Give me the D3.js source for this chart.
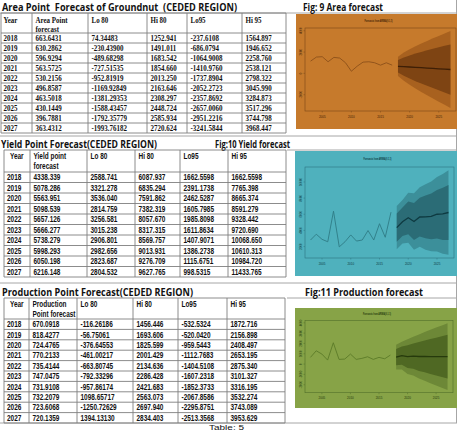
<!DOCTYPE html>
<html>
<head>
<meta charset="utf-8">
<script src="https://cdn.jsdelivr.net/npm/d3@7"></script>
<style>
  body { margin: 0; background: #fff; }
  svg { display: block; }
</style>
</head>
<body>
<script>
var W = 460;
var H = 431;

var years = ["2018","2019","2020","2021","2022","2023","2024","2025","2026","2027"];
var histYears = [2003,2004,2005,2006,2007,2008,2009,2010,2011,2012,2013,2014,2015,2016,2017];

// area table
var areaFc   = ["663.6431","630.2862","596.9294","563.5725","530.2156","496.8587","463.5018","430.1449","396.7881","363.4312"];
var areaLo80 = ["74.34483","-230.43900","-489.68298","-727.51535","-952.81919","-1169.92849","-1381.29353","-1588.43457","-1792.35779","-1993.76182"];
var areaHi80 = ["1252.941","1491.011","1683.542","1854.660","2013.250","2163.646","2308.297","2448.724","2585.934","2720.624"];
var areaLo95 = ["-237.6108","-686.0794","-1064.9008","-1410.9760","-1737.8904","-2052.2723","-2357.8692","-2657.0060","-2951.2216","-3241.5844"];
var areaHi95 = ["1564.897","1946.652","2258.760","2538.121","2798.322","3045.990","3284.873","3517.296","3744.798","3968.447"];

// yield table
var yieldFc   = ["4338.339","5078.286","5563.951","5098.539","5657.126","5666.277","5738.279","5998.293","6050.198","6216.148"];
var yieldLo80 = ["2588.741","3321.278","3536.040","2814.759","3256.581","3015.238","2906.801","2982.656","2823.687","2804.532"];
var yieldHi80 = ["6087.937","6835.294","7591.862","7382.319","8057.670","8317.315","8569.757","9013.931","9276.709","9627.765"];
var yieldLo95 = ["1662.5598","2391.1738","2462.5287","1605.7985","1985.8098","1611.8634","1407.9071","1386.2738","1115.6751","998.5315"];
var yieldHi95 = ["1662.5598","7765.398","8665.374","8591.279","9328.442","9720.690","10068.650","10610.313","10984.720","11433.765"];

// production table
var prodFc   = ["670.0918","818.4277","724.4765","770.2133","735.4144","747.0475","731.9108","732.2079","723.6068","720.1359"];
var prodLo80 = ["-116.26186","-56.75061","-376.64553","-461.00217","-663.80745","-792.33296","-957.86174","1098.65717","-1250.72629","1394.13130"];
var prodHi80 = ["1456.446","1693.606","1825.599","2001.429","2134.636","2286.428","2421.683","2563.073","2697.940","2834.403"];
var prodLo95 = ["-532.5324","-520.0420","-959.5443","-1112.7683","-1404.5108","-1607.2318","-1852.3733","-2067.8586","-2295.8751","-2513.3568"];
var prodHi95 = ["1872.716","2156.898","2408.497","2653.195","2875.340","3101.327","3316.195","3532.274","3743.089","3953.629"];

// history
var areaHist  = [1150,1530,1565,1090,1500,1435,995,200,675,1055,1090,995,770,995,770];
var yieldHist = [2807,3527,2895,2592,6381,1960,2592,3438,2680,2807,3981,2807,4828,3148,6255];
var prodHist  = [650,1290,970,388,2066,456,485,970,456,553,708,456,650,514,873];

// the plots use these where the printed table has typos
var yieldHi95Plot = [7013.5,7765.398,8665.374,8591.279,9328.442,9720.690,10068.650,10610.313,10984.720,11433.765];
var prodLo80Plot  = [-116.26186,-56.75061,-376.64553,-461.00217,-663.80745,-792.33296,-957.86174,-1098.65717,-1250.72629,-1394.13130];

var svg = d3.select("body").append("svg")
  .attr("width", W)
  .attr("height", H);

// page frame lines
var frameRows = [[0,457,13],[0,457,136],[287,457,150],[0,457,283],[287,457,298],[0,457,423]];
svg.selectAll(".frame")
  .data(frameRows)
  .enter()
    .append("line")
    .attr("x1", d => d[0]).attr("x2", d => d[1])
    .attr("y1", d => d[2]).attr("y2", d => d[2])
    .attr("stroke", "#a6a6a6").attr("stroke-width", 1);
svg.append("line")
  .attr("x1", 456.5).attr("x2", 456.5).attr("y1", 0).attr("y2", 423)
  .attr("stroke", "#a6a6a6").attr("stroke-width", 1);

var label = (txt, x, y, len, size, weight, family) => {
  svg.append("text")
    .attr("x", x).attr("y", y)
    .attr("textLength", len)
    .attr("lengthAdjust", "spacingAndGlyphs")
    .style("white-space", "pre")
    .attr("font-family", family || "'Open Sans', 'Noto Sans', sans-serif")
    .attr("font-size", size)
    .attr("font-weight", weight)
    .attr("fill", "#111")
    .text(txt);
};

label("Area Point  Forecast of Groundnut  (CEDED REGION)", 2, 10.5, 235, 11, "bold");
label("Fig: 9 Area forecast", 303, 10.5, 80, 11, "bold");
label("Yield Point Forecast(CEDED REGION)", 1, 148, 156, 11, "bold");
label("Fig:10 Yield forecast", 215, 148, 75, 11, "bold");
label("Production Point Forecast(CEDED REGION)", 2, 296, 191, 11, "bold");
label("Fig:11 Production forecast", 305, 295.5, 118, 11, "bold");
label("Table: 5", 209, 429.6, 35, 7, "normal", "'Liberation Sans', Arial, sans-serif");

// tables
var drawTable = (cfg) => {
  var g = svg.append("g");
  var n = years.length;
  var y = d3.scaleLinear().domain([0, n]).range([cfg.headBottom, cfg.bottom]);
  var hLines = [cfg.top].concat(d3.range(n + 1).map(i => y(i)));

  g.selectAll(".hl")
    .data(hLines)
    .enter()
      .append("line")
      .attr("x1", cfg.cols[0]).attr("x2", cfg.cols[cfg.cols.length - 1])
      .attr("y1", d => d).attr("y2", d => d)
      .attr("stroke", "#7f7f7f").attr("stroke-width", 0.9);
  g.selectAll(".vl")
    .data(cfg.cols)
    .enter()
      .append("line")
      .attr("x1", d => d).attr("x2", d => d)
      .attr("y1", cfg.top).attr("y2", cfg.bottom)
      .attr("stroke", "#7f7f7f").attr("stroke-width", 0.9);

  var put = (txt, x, yy, clip) => {
    var t = g.append("text")
      .attr("transform", "translate(" + x + "," + yy + ") scale(" + cfg.sx + ",1)")
      .attr("font-family", cfg.font)
      .attr("font-size", cfg.size)
      .attr("font-weight", cfg.weight)
      .attr("fill", "#111")
      .text(txt);
    if (clip) t.attr("clip-path", "url(#" + clip + ")");
  };

  cfg.header.forEach((lines, c) => {
    var hx = c === 0 ? cfg.cols[0] + cfg.yearHeadPad : cfg.cols[c] + 3.5;
    lines.forEach((s, k) => {
      var clip = null;
      if (cfg.clipHead && c === 1) {
        clip = cfg.clipHead;
        svg.append("clipPath").attr("id", clip)
          .append("rect")
          .attr("x", 0).attr("y", -20)
          .attr("width", (cfg.cols[2] - hx - 0.5) / cfg.sx).attr("height", 40);
      }
      put(s, hx, cfg.headBase[k], clip);
    });
  });

  var columns = [years].concat(cfg.data);
  columns.forEach((col, c) => {
    var cx = c === 0 ? cfg.cols[0] + cfg.yearPad : cfg.cols[c] + 3.5;
    col.forEach((v, i) => {
      put(v, cx, (y(i) + y(i + 1)) / 2 + cfg.size * 0.36);
    });
  });
};

drawTable({
  cols: [1, 32, 88, 147, 187, 242, 286],
  top: 13, headBottom: 33, bottom: 133,
  headBase: [22.5, 31.5], size: 8.5,
  font: "'Liberation Serif', 'Times New Roman', serif", weight: "bold", sx: 0.82,
  yearPad: 2.5, yearHeadPad: 2.5,
  header: [["Year"], ["Area Point", "forecast"], ["Lo 80"], ["Hi 80"], ["Lo95"], ["Hi 95"]],
  data: [areaFc, areaLo80, areaHi80, areaLo95, areaHi95]
});

drawTable({
  cols: [4, 30, 87, 135, 180, 228, 286],
  top: 150, headBottom: 172, bottom: 277,
  headBase: [158.5, 169], size: 8.5,
  font: "'Liberation Sans', Arial, sans-serif", weight: "bold", sx: 0.76,
  yearPad: 3, yearHeadPad: 6,
  header: [["Year"], ["Yield point", "forecast"], ["Lo 80"], ["Hi 80"], ["Lo95"], ["Hi 95"]],
  data: [yieldFc, yieldLo80, yieldHi80, yieldLo95, yieldHi95]
});

drawTable({
  cols: [4, 29, 77, 133, 178, 227, 285],
  top: 298, headBottom: 319, bottom: 423,
  headBase: [306.5, 316.5], size: 8.5,
  font: "'Liberation Sans', Arial, sans-serif", weight: "bold", sx: 0.76,
  yearPad: 3, yearHeadPad: 6, clipHead: "prodHeadClip",
  header: [["Year"], ["Production", "Point forecast"], ["Lo 80"], ["Hi 80"], ["Lo95"], ["Hi 95"]],
  data: [prodFc, prodLo80, prodHi80, prodLo95, prodHi95]
});

// forecast plots (R style, recoloured)
var drawPlot = (cfg) => {
  var g = svg.append("g");
  var fYears = years.map(Number);
  var fc = cfg.fc.map(Number);
  var lo80 = cfg.lo80.map(Number), hi80 = cfg.hi80.map(Number);
  var lo95 = cfg.lo95.map(Number), hi95 = cfg.hi95.map(Number);

  var xe = d3.extent(histYears.concat(fYears));
  var xp = (xe[1] - xe[0]) * 0.04;
  var x = d3.scaleLinear().domain([xe[0] - xp, xe[1] + xp]).range([cfg.box[0], cfg.box[1]]);
  var ye = d3.extent(cfg.hist.concat(lo95, hi95));
  var yp = (ye[1] - ye[0]) * 0.04;
  var y = d3.scaleLinear().domain([ye[0] - yp, ye[1] + yp]).range([cfg.box[3], cfg.box[2]]);

  g.append("rect")
    .attr("x", cfg.panel[0]).attr("y", cfg.panel[1])
    .attr("width", cfg.panel[2]).attr("height", cfg.panel[3])
    .attr("fill", cfg.bg);

  var band = (lo, hi) => d3.area()
    .x((d, i) => x(fYears[i]))
    .y0((d, i) => y(lo[i]))
    .y1((d, i) => y(hi[i]))(fYears);

  g.append("path").attr("d", band(lo95, hi95)).attr("fill", cfg.c95);
  g.append("path").attr("d", band(lo80, hi80)).attr("fill", cfg.c80);

  g.append("path")
    .attr("d", d3.line().x((d, i) => x(histYears[i])).y(d => y(d))(cfg.hist))
    .attr("fill", "none").attr("stroke", cfg.cHist).attr("stroke-width", 0.9);
  g.append("path")
    .attr("d", d3.line().x((d, i) => x(fYears[i])).y(d => y(d))(fc))
    .attr("fill", "none").attr("stroke", cfg.cLine).attr("stroke-width", 1.3);

  g.append("rect")
    .attr("x", cfg.box[0]).attr("y", cfg.box[2])
    .attr("width", cfg.box[1] - cfg.box[0]).attr("height", cfg.box[3] - cfg.box[2])
    .attr("fill", "none").attr("stroke", cfg.cBox).attr("stroke-width", 0.6);

  g.append("text")
    .attr("x", (cfg.box[0] + cfg.box[1]) / 2 - 2).attr("y", cfg.titleY)
    .attr("text-anchor", "middle")
    .attr("textLength", 28).attr("lengthAdjust", "spacingAndGlyphs")
    .attr("font-family", "'Liberation Sans', sans-serif")
    .attr("font-size", 3).attr("font-weight", "bold")
    .attr("fill", cfg.cLine)
    .text(cfg.title);

  var xt = x.ticks(5);
  g.selectAll(".xt")
    .data(xt)
    .enter()
      .append("line")
      .attr("x1", d => x(d)).attr("x2", d => x(d))
      .attr("y1", cfg.box[3]).attr("y2", cfg.box[3] + 1.5)
      .attr("stroke", cfg.cBox).attr("stroke-width", 0.5);
  g.selectAll(".xl")
    .data(xt)
    .enter()
      .append("text")
      .attr("x", d => x(d)).attr("y", cfg.box[3] + 6.5)
      .attr("text-anchor", "middle")
      .attr("font-family", "'Liberation Sans', sans-serif")
      .attr("font-size", 3)
      .attr("fill", cfg.cLine)
      .text(d => d);

  var yt = y.ticks(cfg.yTicks);
  g.selectAll(".yt")
    .data(yt)
    .enter()
      .append("line")
      .attr("x1", cfg.box[0] - 1.5).attr("x2", cfg.box[0])
      .attr("y1", d => y(d)).attr("y2", d => y(d))
      .attr("stroke", cfg.cBox).attr("stroke-width", 0.5);
  g.selectAll(".yl")
    .data(yt)
    .enter()
      .append("text")
      .attr("transform", d => "translate(" + (cfg.box[0] - 3) + "," + y(d) + ") rotate(-90)")
      .attr("text-anchor", "middle")
      .attr("font-family", "'Liberation Sans', sans-serif")
      .attr("font-size", 3)
      .attr("fill", cfg.cLine)
      .text(d => d);
};

drawPlot({
  panel: [296, 14, 161, 115], box: [305, 456, 28, 111], titleY: 21.5,
  title: "Forecasts from ARIMA(0,1,1)", yTicks: 4,
  hist: areaHist, fc: areaFc, lo80: areaLo80, hi80: areaHi80, lo95: areaLo95, hi95: areaHi95,
  bg: "#c67a2c", c95: "#a8611f", c80: "#7e4413", cHist: "#8c501a", cLine: "#3e1f06", cBox: "#7a4819"
});

drawPlot({
  panel: [295, 151, 162, 125], box: [305, 454, 167, 258], titleY: 159.5,
  title: "Forecasts from ARIMA(0,1,1)", yTicks: 5,
  hist: yieldHist, fc: yieldFc, lo80: yieldLo80, hi80: yieldHi80, lo95: yieldLo95, hi95: yieldHi95Plot,
  bg: "#4fb1bd", c95: "#3c8f9a", c80: "#2b6c76", cHist: "#2f7c86", cLine: "#0e3a41", cBox: "#2d7480"
});

drawPlot({
  panel: [295, 308, 162, 100], box: [305, 453, 320.6, 392.7], titleY: 315,
  title: "Forecasts from ARIMA(0,1,1)", yTicks: 7,
  hist: prodHist, fc: prodFc, lo80: prodLo80Plot, hi80: prodHi80, lo95: prodLo95, hi95: prodHi95,
  bg: "#87a347", c95: "#6d8837", c80: "#4f6823", cHist: "#5b7a28", cLine: "#263a0c", cBox: "#52702a"
});
</script>
</body>
</html>
